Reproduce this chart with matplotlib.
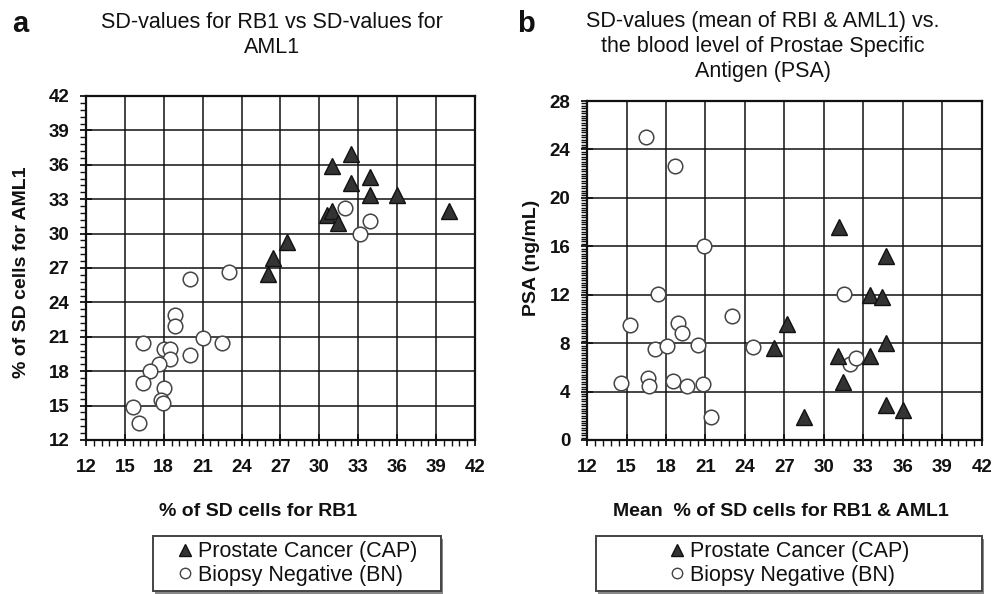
import matplotlib
matplotlib.use("Agg")
import matplotlib.pyplot as plt
from matplotlib.ticker import MultipleLocator
from matplotlib.lines import Line2D
from matplotlib.patches import Rectangle

plt.rcParams['font.family'] = ['Liberation Sans', 'DejaVu Sans']

# ---------------- data ----------------
# Panel a: % SD cells RB1 (x) vs % SD cells AML1 (y)
cap_rb1 = [32.4, 31.0, 33.9, 32.4, 33.9, 36.0, 40.0, 30.6, 31.0, 31.4, 27.5, 26.4, 26.0]
cap_aml1 = [36.9, 35.9, 34.9, 34.4, 33.4, 33.4, 32.0, 31.6, 32.0, 30.9, 29.3, 27.9, 26.5]
bn_rb1 = [32.0, 33.9, 33.1, 23.0, 20.0, 18.9, 18.9, 21.05, 22.5, 16.4, 18.0, 18.5,
          18.5, 20.0, 17.6, 16.9, 16.4, 18.0, 17.8, 17.9, 15.6, 16.1]
bn_aml1 = [32.2, 31.1, 30.0, 26.65, 26.0, 22.9, 21.9, 20.9, 20.5, 20.5, 19.9, 19.9,
           19.1, 19.4, 18.6, 18.0, 17.0, 16.5, 15.5, 15.2, 14.9, 13.5]

# Panel b: mean % SD cells (x) vs PSA ng/mL (y)
cap_mean = [31.15, 34.73, 33.46, 34.4, 27.17, 26.23, 34.73, 31.1, 33.46, 31.48, 34.73, 35.99, 28.51]
cap_psa = [17.6, 15.2, 12.0, 11.8, 9.6, 7.6, 8.0, 6.9, 6.9, 4.8, 2.9, 2.5, 1.9]
bn_mean = [16.5, 18.7, 20.9, 17.4, 31.5, 15.25, 23.0, 18.9, 19.2, 17.2, 18.1, 20.45,
           24.6, 14.6, 16.65, 16.7, 18.5, 19.6, 20.8, 21.4, 32.0, 32.45]
bn_psa = [25.05, 22.6, 16.0, 12.05, 12.05, 9.5, 10.25, 9.65, 8.8, 7.5, 7.75, 7.85,
          7.7, 4.7, 5.1, 4.45, 4.9, 4.45, 4.65, 1.9, 6.3, 6.75]

x_ticks = list(range(12, 43, 3))
ya_ticks = list(range(12, 43, 3))
yb_ticks = list(range(0, 29, 4))

cap_label = "Prostate Cancer (CAP)"
bn_label = "Biopsy Negative (BN)"
title_a = "SD-values for RB1 vs SD-values for\nAML1"
title_b = "SD-values (mean of RBI & AML1) vs.\nthe blood level of Prostae Specific\nAntigen (PSA)"
xlabel_a = "% of SD cells for RB1"
ylabel_a = "% of SD cells for AML1"
xlabel_b = "Mean  % of SD cells for RB1 & AML1"
ylabel_b = "PSA (ng/mL)"

# ---------------- figure ----------------
W, H = 1003, 594
fig = plt.figure(figsize=(W / 100, H / 100), dpi=100)

def fx(px):
    return px / W

def fy(py):
    return 1 - py / H

ax_a = fig.add_axes([fx(86), fy(440), fx(475) - fx(86), fy(96) - fy(440)])
ax_b = fig.add_axes([fx(587), fy(440), fx(982) - fx(587), fy(101) - fy(440)])

tri_style = dict(marker='^', linestyle='none', markersize=11.5, markerfacecolor='#333333',
                 markeredgecolor='#111111', markeredgewidth=1.0, zorder=4)
circ_style = dict(marker='o', linestyle='none', markersize=10.5, markerfacecolor='white',
                  markeredgecolor='#444444', markeredgewidth=1.1, zorder=3)


def style_axes(ax, yticks, yminor):
    ax.set_xlim(12, 42)
    ax.set_xticks(x_ticks)
    ax.set_ylim(yticks[0], yticks[-1])
    ax.set_yticks(yticks)
    ax.xaxis.set_minor_locator(MultipleLocator(0.6))
    ax.yaxis.set_minor_locator(MultipleLocator(yminor))
    ax.grid(True, which='major', color='#111111', linewidth=1.1, zorder=0)
    ax.set_axisbelow(True)
    for sp in ax.spines.values():
        sp.set_linewidth(1.6)
        sp.set_color('#111111')
    ax.tick_params(which='major', direction='inout', length=8, width=1.3, color='#111111',
                   pad=10, labelsize=13.5)
    ax.tick_params(which='minor', direction='out', length=4, width=1.0, color='#111111')
    ax.tick_params(axis='y', which='major', pad=8)
    ax.tick_params(top=False, right=False, which='both')
    for lab in ax.get_xticklabels() + ax.get_yticklabels():
        lab.set_fontweight('bold')
        lab.set_color('#111111')


# Panel a
ax_a.plot(bn_rb1, bn_aml1, **circ_style)
ax_a.plot(cap_rb1, cap_aml1, **tri_style)
style_axes(ax_a, ya_ticks, 0.6)

# Panel b
ax_b.plot(bn_mean, bn_psa, **circ_style)
ax_b.plot(cap_mean, cap_psa, **tri_style)
style_axes(ax_b, yb_ticks, 0.2)

# Titles and panel letters
fig.text(fx(272), fy(35), title_a, ha='center', va='center', fontsize=15.5, linespacing=1.27,
         color='#111111')
fig.text(fx(763), fy(46.5), title_b, ha='center', va='center', fontsize=15.5, linespacing=1.24,
         color='#111111')
fig.text(fx(12), fy(32), "a", ha='left', va='baseline', fontsize=21, fontweight='bold',
         color='#111111')
fig.text(fx(517), fy(32), "b", ha='left', va='baseline', fontsize=21, fontweight='bold',
         color='#111111')

# Axis labels
lab_kw = dict(fontsize=14, fontweight='bold', color='#111111')
fig.text(fx(258), fy(511), xlabel_a, ha='center', va='center', **lab_kw)
fig.text(fx(781), fy(511), xlabel_b, ha='center', va='center', **lab_kw)
fig.text(fx(22), fy(272), ylabel_a, ha='center', va='center', rotation=90, **lab_kw)
fig.text(fx(532), fy(258), ylabel_b, ha='center', va='center', rotation=90, **lab_kw)

# Legends
handles = [
    Line2D([], [], marker='^', linestyle='none', markersize=9, markerfacecolor='#333333',
           markeredgecolor='#111111'),
    Line2D([], [], marker='o', linestyle='none', markersize=7.5, markerfacecolor='white',
           markeredgecolor='#444444', markeredgewidth=1.0),
]
labels = [cap_label, bn_label]
leg_font = dict(family=['Liberation Sans'], size=15.5)

for (x0, x1) in [(153, 441), (596, 982)]:
    y0, y1 = 536, 591
    fig.add_artist(Rectangle((fx(x0) + 2 / W, fy(y1) - 3 / H), fx(x1) - fx(x0), fy(y0) - fy(y1),
                             transform=fig.transFigure, facecolor='#888888', edgecolor='none',
                             zorder=1))
    fig.add_artist(Rectangle((fx(x0), fy(y1)), fx(x1) - fx(x0), fy(y0) - fy(y1),
                             transform=fig.transFigure, facecolor='white', edgecolor='#444444',
                             linewidth=1.4, zorder=2))
    leg = fig.legend(handles, labels, loc='center',
                     bbox_to_anchor=(fx((x0 + x1) / 2), fy((y0 + y1) / 2)),
                     bbox_transform=fig.transFigure, frameon=False, prop=leg_font,
                     handlelength=0.7, handletextpad=0.25, labelspacing=0.12,
                     borderpad=0.0)
    leg.set_zorder(3)
    for t in leg.get_texts():
        t.set_color('#111111')

fig.savefig("out.png", dpi=100)
